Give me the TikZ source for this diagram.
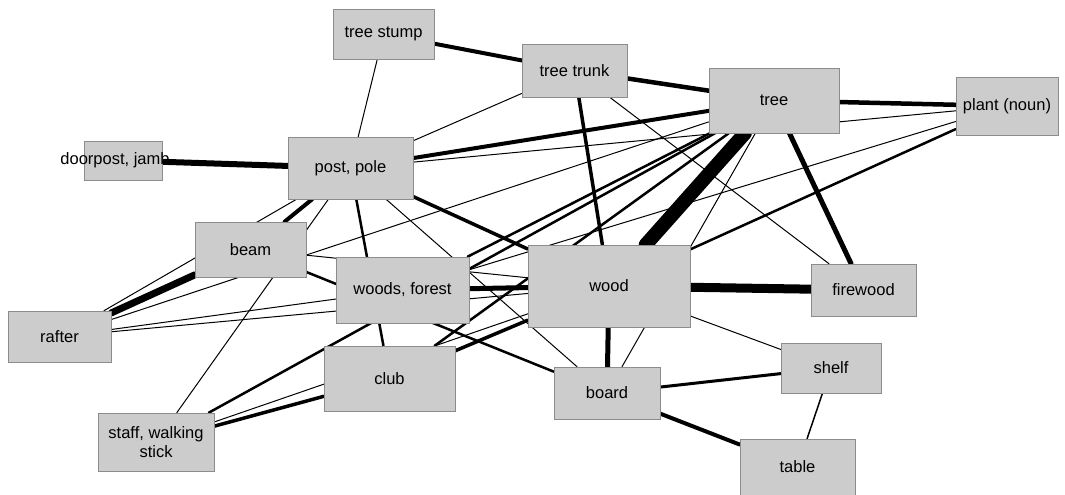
\documentclass[tikz,border=0pt]{standalone}
\usepackage{fontspec}
\setmainfont{Liberation Sans}
\usetikzlibrary{backgrounds}
\definecolor{boxgray}{RGB}{204,204,204}

\begin{document}
\begin{tikzpicture}[x=1pt,y=-1pt,
  box/.style={draw=black!45, line width=0.6pt, fill=boxgray, inner sep=0pt,
    align=center, font=\fontsize{16.5}{19.5}\selectfont},
  link/.style={line width=#1, line cap=round},
  link/.default=1pt]

\useasboundingbox (0,0) rectangle (1065,495);

% concepts
\node[box, minimum width=101, minimum height=50] (stump) at (383.5,34) {tree stump};
\node[box, minimum width=105, minimum height=53] (trunk) at (574.5,70.5) {tree trunk};
\node[box, minimum width=130, minimum height=65] (tree) at (774,100.5) {tree};
\node[box, minimum width=102, minimum height=58] (plant) at (1007,106) {plant (noun)};
\node[box, minimum width=78, minimum height=39] (door) at (123,160.5) {\makebox[0pt]{\hspace*{-16pt}doorpost, jamb}};
\node[box, minimum width=125, minimum height=62] (post) at (350.5,168) {post, pole};
\node[box, minimum width=111, minimum height=55] (beam) at (250.5,249.5) {beam};
\node[box, minimum width=133, minimum height=66] (woods) at (402.5,290) {woods, forest};
\node[box, minimum width=162, minimum height=82] (wood) at (609,286) {wood};
\node[box, minimum width=105, minimum height=52] (fire) at (863.5,290) {firewood};
\node[box, minimum width=103, minimum height=51] (rafter) at (59.5,336.5) {rafter};
\node[box, minimum width=131, minimum height=65] (club) at (389.5,378.5) {club};
\node[box, minimum width=106, minimum height=52] (board) at (607,393) {board};
\node[box, minimum width=100, minimum height=50] (shelf) at (831,368) {shelf};
\node[box, minimum width=116, minimum height=58] (staff) at (156,442) {staff, walking\\stick};
\node[box, minimum width=115, minimum height=56] (table) at (797.5,467) {table};

% links, under the boxes
\begin{scope}[on background layer]
\draw[link=4] (stump) -- (trunk);
\draw[link] (stump) -- (post);
\draw[link=4.5] (trunk) -- (tree);
\draw[link=3.5] (trunk) -- (wood);
\draw[link] (trunk) -- (post);
\draw[link] (trunk) -- (fire);
\draw[link=4.5] (tree) -- (plant);
\draw[link=4] (tree) -- (post);
\draw[link=14] (tree) -- (wood);
\draw[link=5] (tree) -- (fire);
\draw[link=2.5] (tree) -- (woods);
\draw[link=2.5] (tree) -- (club);
\draw[link=2.5] (tree) -- (staff);
\draw[link] (tree) -- (rafter);
\draw[link] (tree) -- (board);
\draw[link] (plant) -- (post);
\draw[link] (plant) -- (woods);
\draw[link=2.5] (plant) -- (wood);
\draw[link=6] (door) -- (post);
\draw[link=4] (post) -- (beam);
\draw[link] (post) -- (rafter);
\draw[link] (post) -- (staff);
\draw[link=2.5] (post) -- (club);
\draw[link] (post) -- (board);
\draw[link=3.5] (post) -- (wood);
\draw[link=7] (beam) -- (rafter);
\draw[link] (beam) -- (wood);
\draw[link=2.5] (beam) -- (board);
\draw[link] (rafter) -- (woods);
\draw[link] (rafter) -- (wood);
\draw[link=5] (woods) -- (wood);
\draw[link] (staff) -- (wood);
\draw[link=3.5] (staff) -- (club);
\draw[link=3.5] (club) -- (wood);
\draw[link=9] (wood) -- (fire);
\draw[link] (wood) -- (shelf);
\draw[link=5] (wood) -- (board);
\draw[link=3] (board) -- (shelf);
\draw[link=4] (board) -- (table);
\draw[link=1.5] (shelf) -- (table);
\end{scope}
\end{tikzpicture}
\end{document}
